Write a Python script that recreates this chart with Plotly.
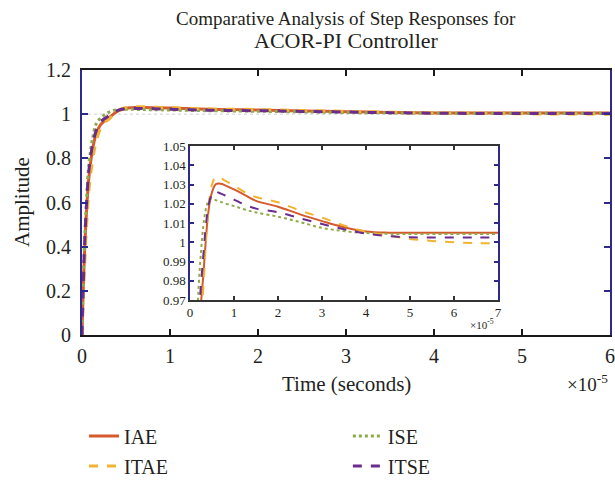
import plotly.graph_objects as go

# time in units of 1e-5 s
t = [0, 0.02, 0.05, 0.08, 0.12, 0.16, 0.2, 0.25, 0.3, 0.35, 0.4, 0.45, 0.5, 0.55, 0.6, 0.65,
     0.7, 0.8, 1.0, 1.25, 1.5, 2.0, 2.5, 3.0, 3.5, 4.0, 4.5, 5.0, 5.5, 6.0, 6.5, 7.0]

IAE = [0, 0.28, 0.55, 0.72, 0.84, 0.91, 0.945, 0.968, 0.982, 0.998, 1.012, 1.021, 1.026, 1.029,
       1.0303, 1.0306, 1.0304, 1.0296, 1.0275, 1.0245, 1.0215, 1.0185, 1.0145, 1.011, 1.0078,
       1.0056, 1.005, 1.005, 1.005, 1.005, 1.005, 1.005]
ITAE = [0, 0.22, 0.48, 0.66, 0.79, 0.875, 0.925, 0.962, 0.975, 0.995, 1.013, 1.024, 1.030, 1.033,
        1.034, 1.0338, 1.0333, 1.032, 1.0295, 1.026, 1.0235, 1.0208, 1.0165, 1.0128, 1.0088,
        1.0055, 1.0035, 1.0017, 1.0007, 1.0000, 0.9996, 0.9994]
ISE = [0, 0.32, 0.6, 0.78, 0.89, 0.955, 0.978, 0.995, 1.008, 1.016, 1.0205, 1.0225, 1.0225, 1.0222,
       1.0218, 1.0214, 1.021, 1.0202, 1.0188, 1.017, 1.0155, 1.0133, 1.0105, 1.0075, 1.0058,
       1.0048, 1.0044, 1.0043, 1.0043, 1.0043, 1.0043, 1.0043]
ITSE = [0, 0.3, 0.58, 0.75, 0.86, 0.925, 0.96, 0.978, 0.992, 1.006, 1.016, 1.022, 1.025, 1.0262,
        1.0262, 1.0258, 1.0253, 1.0243, 1.0222, 1.0195, 1.0175, 1.0156, 1.0125, 1.0095, 1.0068,
        1.0045, 1.0032, 1.0026, 1.0025, 1.0025, 1.0025, 1.0025]

main_xticks = [0, 1, 2, 3, 4, 5, 6]
main_yticks = [0, 0.2, 0.4, 0.6, 0.8, 1.0, 1.2]
main_yticktext = ["0", "0.2", "0.4", "0.6", "0.8", "1", "1.2"]
inset_xticks = [0, 1, 2, 3, 4, 5, 6, 7]
inset_yticks = [0.97, 0.98, 0.99, 1.00, 1.01, 1.02, 1.03, 1.04, 1.05]
inset_yticktext = ["0.97", "0.98", "0.99", "1", "1.01", "1.02", "1.03", "1.04", "1.05"]

title_lines = ["Comparative Analysis of Step Responses for", "ACOR-PI Controller"]

FONT = "Liberation Serif"
TXT = "#231F20"
NAVY = "#2E2A8C"
DARK = "#1A1A1A"

series = [
    ("IAE", IAE, "#D65A2C", "solid", "legend"),
    ("ISE", ISE, "#8FAA48", "dot", "legend2"),
    ("ITAE", ITAE, "#F2B430", "dash", "legend"),
    ("ITSE", ITSE, "#6B2C8C", "dash", "legend2"),
]

fig = go.Figure()
for name, ys, col, dash, lg in series:
    fig.add_trace(go.Scatter(x=t, y=ys, mode="lines", name=name, line_shape="spline",
                             line=dict(color=col, width=3, dash=dash), legend=lg,
                             legendgroup=name, xaxis="x", yaxis="y"))
for name, ys, col, dash, lg in series:
    fig.add_trace(go.Scatter(x=t, y=ys, mode="lines", name=name, line_shape="spline",
                             line=dict(color=col, width=2, dash=dash), showlegend=False,
                             xaxis="x2", yaxis="y2"))

fig.add_hline(y=1, line=dict(color="#D0D0D0", width=1, dash="dot"), layer="below")

axcommon = dict(showgrid=False, zeroline=False, ticks="inside", mirror="ticks",
                showline=True, ticklabeloverflow="allow")

fig.update_layout(
    width=615, height=480,
    margin=dict(l=82, r=5, t=70, b=145, autoexpand=False),
    paper_bgcolor="white", plot_bgcolor="white",
    font=dict(family=FONT, color=TXT, size=20),
    xaxis=dict(domain=[0, 1], range=[0, 6], tickvals=main_xticks,
               ticklen=6, linecolor=DARK, tickcolor=DARK, linewidth=2, tickwidth=2,
               tickfont=dict(size=20), anchor="y", ticklabelstandoff=2,
               **axcommon),
    yaxis=dict(domain=[0, 1], range=[0, 1.2], tickvals=main_yticks, ticktext=main_yticktext,
               ticklen=6, linecolor=NAVY, tickcolor=NAVY, anchor="x", linewidth=2, tickwidth=2,
               tickfont=dict(size=20), ticklabelstandoff=5,
               **axcommon),
    xaxis2=dict(domain=[0.2045, 0.788], range=[0, 7], tickvals=inset_xticks, anchor="y2",
                ticklen=4, linecolor="#333333", tickcolor="#333333", linewidth=1.5, tickwidth=1.5,
                tickfont=dict(size=13), **axcommon),
    yaxis2=dict(domain=[0.132, 0.713], range=[0.97, 1.05], tickvals=inset_yticks,
                ticktext=inset_yticktext, anchor="x2",
                ticklen=4, linecolor=NAVY, tickcolor=NAVY, linewidth=1.5, tickwidth=1.5,
                tickfont=dict(size=13), **axcommon),
    legend=dict(x=0.0038, y=-0.308, xanchor="left", yanchor="top", orientation="v",
                traceorder="grouped", tracegroupgap=1, bgcolor="rgba(0,0,0,0)",
                font=dict(size=20, family=FONT, color=TXT)),
    legend2=dict(x=0.5035, y=-0.308, xanchor="left", yanchor="top", orientation="v",
                 traceorder="grouped", tracegroupgap=1, bgcolor="rgba(0,0,0,0)",
                 font=dict(size=20, family=FONT, color=TXT)),
    annotations=[
        dict(text=title_lines[0], x=0.5, y=1.196, xref="paper", yref="paper",
             xanchor="center", yanchor="middle", showarrow=False, font=dict(size=19)),
        dict(text=title_lines[1], x=0.5, y=1.113, xref="paper", yref="paper",
             xanchor="center", yanchor="middle", showarrow=False, font=dict(size=22)),
        dict(text="Time (seconds)", x=0.5, y=-0.185, xref="paper", yref="paper",
             xanchor="center", yanchor="middle", showarrow=False, font=dict(size=21)),
        dict(text="Amplitude", x=-0.1136, y=0.502, xref="paper", yref="paper", textangle=-90,
             xanchor="center", yanchor="middle", showarrow=False, font=dict(size=21)),
        dict(text="×10<sup>-5</sup>", x=1.0, y=-0.18, xref="paper", yref="paper",
             xanchor="right", yanchor="middle", showarrow=False, font=dict(size=19)),
        dict(text="×10<sup>-5</sup>", x=0.785, y=0.0415, xref="paper", yref="paper",
             xanchor="right", yanchor="middle", showarrow=False, font=dict(size=11)),
    ],
)

fig.write_html("out.html", config={"displayModeBar": False},
               post_script="document.body.style.margin='0';document.body.style.padding='0';")
